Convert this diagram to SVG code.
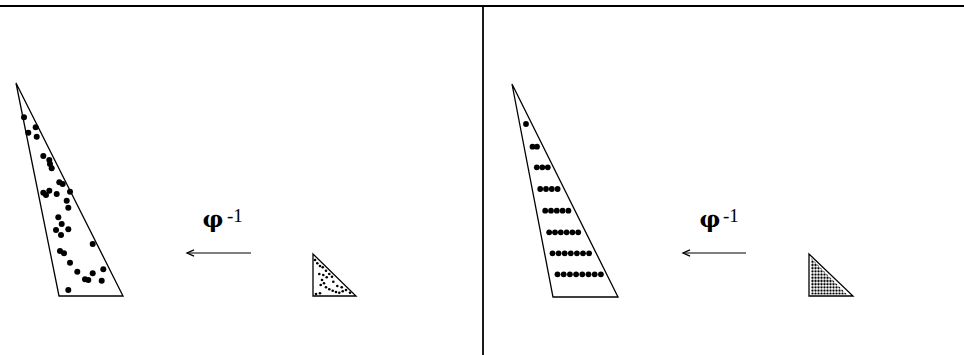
<svg xmlns="http://www.w3.org/2000/svg" width="964" height="355" viewBox="0 0 964 355">
<style>
.frame{stroke:#000;stroke-width:1.8;fill:none}
.tri{stroke:#000;stroke-width:1.3;fill:none;stroke-linejoin:miter}
.big circle{fill:#000}
.small circle{fill:#000}
.arrow{stroke:#000;stroke-width:1.2;fill:none}
.phi{font-family:"DejaVu Serif","Liberation Serif",serif;font-size:23px;font-weight:bold;fill:#000}
.sup{font-family:"Liberation Serif","DejaVu Serif",serif;font-size:19px;fill:#000}
</style>
<defs>
<marker id="ah" markerWidth="10" markerHeight="8" refX="8" refY="4" orient="auto" markerUnits="userSpaceOnUse">
<path d="M1,0.8 L8,4 L1,7.2" fill="none" stroke="#000" stroke-width="1.3"/>
</marker>
<pattern id="grid" x="811" y="257" width="3" height="3.2" patternUnits="userSpaceOnUse">
<circle cx="1.5" cy="1.6" r="1.15" fill="#000"/>
</pattern>
</defs>
<g id="frame">
<line class="frame" x1="0" y1="6" x2="964" y2="6"/>
<line class="frame" x1="483" y1="6" x2="483" y2="355"/>
</g>
<g id="left-big">
<polygon class="tri" points="16,83 59,296 123,296"/>
<g class="big">
<circle cx="24" cy="117.3" r="3"/><circle cx="28.3" cy="132.7" r="3"/><circle cx="35.7" cy="127.3" r="3"/>
<circle cx="36.7" cy="136.7" r="3"/><circle cx="43.3" cy="156" r="3"/><circle cx="49.3" cy="160" r="3"/>
<circle cx="50" cy="164" r="3"/><circle cx="51.7" cy="168.3" r="3"/><circle cx="59.3" cy="182.3" r="3"/>
<circle cx="62.7" cy="184" r="3"/><circle cx="43.3" cy="192.7" r="3"/><circle cx="46" cy="195" r="3"/>
<circle cx="49.3" cy="190.7" r="3"/><circle cx="56.7" cy="194" r="3"/><circle cx="70" cy="191.7" r="3"/>
<circle cx="66.7" cy="200.7" r="3"/><circle cx="68.3" cy="207.7" r="3"/><circle cx="58.3" cy="217.3" r="3"/>
<circle cx="61.7" cy="224" r="3"/><circle cx="56" cy="230" r="3"/><circle cx="68.3" cy="229.3" r="3"/>
<circle cx="61" cy="235" r="3"/><circle cx="92.7" cy="244" r="3"/><circle cx="60" cy="251" r="3"/>
<circle cx="64" cy="253.3" r="3"/><circle cx="70" cy="262.7" r="3"/><circle cx="77.3" cy="271.7" r="3"/>
<circle cx="85" cy="279.3" r="3"/><circle cx="88.3" cy="280" r="3"/><circle cx="92.7" cy="273.3" r="3"/>
<circle cx="103.3" cy="269.3" r="3"/><circle cx="101.7" cy="280.7" r="3"/><circle cx="68.3" cy="290" r="3"/>
</g>
</g>
<g id="left-small">
<polygon class="tri" points="313,254 313,296 356,296"/>
<g class="small">
<circle cx="315" cy="260" r="1.3"/><circle cx="317.3" cy="263.3" r="1.3"/><circle cx="320" cy="266" r="1.3"/>
<circle cx="322.7" cy="267.3" r="1.3"/><circle cx="326" cy="270.7" r="1.3"/><circle cx="329.3" cy="274" r="1.3"/>
<circle cx="332" cy="276.7" r="1.3"/><circle cx="319.3" cy="274" r="1.3"/><circle cx="323.3" cy="275" r="1.3"/>
<circle cx="326.7" cy="277.3" r="1.3"/><circle cx="322" cy="280" r="1.3"/><circle cx="324" cy="283.3" r="1.3"/>
<circle cx="320.7" cy="285" r="1.3"/><circle cx="326" cy="287.3" r="1.3"/><circle cx="329.3" cy="289.3" r="1.3"/>
<circle cx="332.7" cy="290.7" r="1.3"/><circle cx="336" cy="292" r="1.3"/><circle cx="339.3" cy="292.7" r="1.3"/>
<circle cx="342.7" cy="291.3" r="1.3"/><circle cx="346" cy="290" r="1.3"/><circle cx="350" cy="292.7" r="1.3"/>
<circle cx="320" cy="293.3" r="1.3"/><circle cx="316" cy="294" r="1.3"/><circle cx="333.3" cy="281.7" r="1.3"/>
<circle cx="337.3" cy="286" r="1.3"/><circle cx="341.7" cy="287.3" r="1.3"/>
</g>
</g>
<g id="left-label">
<text class="phi" x="213" y="227" text-anchor="middle">φ</text>
<text class="sup" x="227" y="222">-1</text>
</g>
<g id="right-big">
<polygon class="tri" points="512,84 553,297 618,297"/>
<g class="big">
<circle cx="526" cy="124" r="2.9"/>
<circle cx="532.5" cy="146.7" r="2.9"/><circle cx="537" cy="146.7" r="2.9"/>
<circle cx="536.8" cy="167.3" r="2.9"/><circle cx="542.3" cy="167.3" r="2.9"/><circle cx="547.8" cy="167.3" r="2.9"/>
<circle cx="540.2" cy="189" r="2.9"/><circle cx="546" cy="189" r="2.9"/><circle cx="551.8" cy="189" r="2.9"/><circle cx="557.6" cy="189" r="2.9"/>
<circle cx="545.2" cy="210.7" r="2.9"/><circle cx="551" cy="210.7" r="2.9"/><circle cx="556.8" cy="210.7" r="2.9"/><circle cx="562.6" cy="210.7" r="2.9"/><circle cx="568.4" cy="210.7" r="2.9"/>
<circle cx="549.2" cy="232.3" r="2.9"/><circle cx="555" cy="232.3" r="2.9"/><circle cx="560.8" cy="232.3" r="2.9"/><circle cx="566.6" cy="232.3" r="2.9"/><circle cx="572.4" cy="232.3" r="2.9"/><circle cx="578.2" cy="232.3" r="2.9"/>
<circle cx="552.5" cy="253.3" r="2.9"/><circle cx="558.6" cy="253.3" r="2.9"/><circle cx="564.7" cy="253.3" r="2.9"/><circle cx="570.8" cy="253.3" r="2.9"/><circle cx="576.9" cy="253.3" r="2.9"/><circle cx="583" cy="253.3" r="2.9"/><circle cx="589.1" cy="253.3" r="2.9"/>
<circle cx="557.5" cy="274.3" r="2.9"/><circle cx="563.7" cy="274.3" r="2.9"/><circle cx="569.9" cy="274.3" r="2.9"/><circle cx="576.1" cy="274.3" r="2.9"/><circle cx="582.3" cy="274.3" r="2.9"/><circle cx="588.5" cy="274.3" r="2.9"/><circle cx="594.7" cy="274.3" r="2.9"/><circle cx="600.9" cy="274.3" r="2.9"/>
</g>
</g>
<g id="right-small">
<polygon class="tri" points="809,254 809,296 853,296"/>
<polygon points="811,258 811,294.5 847,294.5" fill="url(#grid)"/>
</g>
<g id="right-label">
<text class="phi" x="710" y="227" text-anchor="middle">φ</text>
<text class="sup" x="723" y="222">-1</text>
</g>
<g id="connectors">
<line class="arrow" x1="251" y1="253" x2="187" y2="253" marker-end="url(#ah)"/>
<line class="arrow" x1="746" y1="253" x2="683" y2="253" marker-end="url(#ah)"/>
</g>
</svg>
